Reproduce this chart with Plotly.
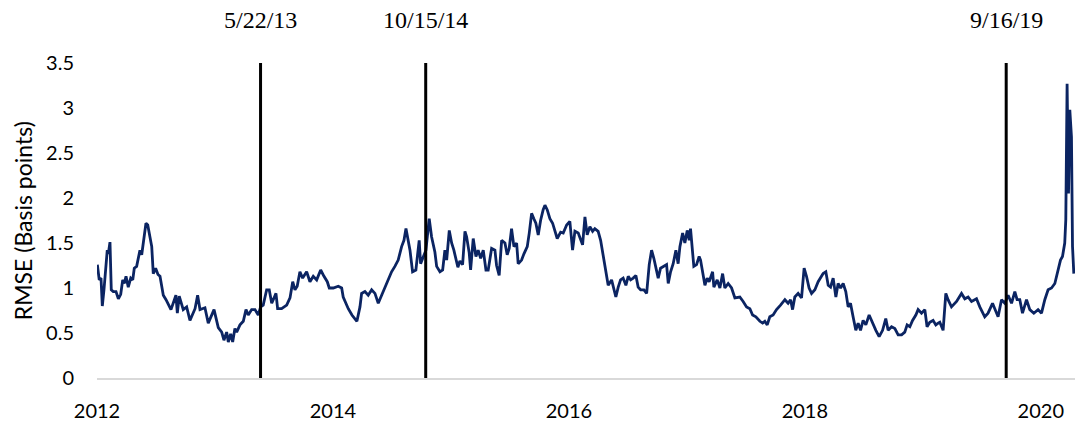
import plotly.graph_objects as go

years = [
    2012.003, 2012.019, 2012.034, 2012.045, 2012.059, 2012.074, 2012.087, 2012.096, 2012.110, 2012.121,
    2012.138, 2012.161, 2012.181, 2012.201, 2012.218, 2012.231, 2012.246, 2012.265, 2012.286, 2012.303,
    2012.316, 2012.336, 2012.350, 2012.364, 2012.379, 2012.392, 2012.415, 2012.430, 2012.449, 2012.464,
    2012.477, 2012.497, 2012.517, 2012.534, 2012.562, 2012.585, 2012.627, 2012.669, 2012.681, 2012.697,
    2012.731, 2012.760, 2012.788, 2012.816, 2012.831, 2012.853, 2012.873, 2012.915, 2012.943, 2012.992,
    2013.028, 2013.057, 2013.076, 2013.099, 2013.113, 2013.133, 2013.150, 2013.169, 2013.184, 2013.212,
    2013.240, 2013.263, 2013.282, 2013.311, 2013.339, 2013.367, 2013.387, 2013.409, 2013.438, 2013.460,
    2013.481, 2013.494, 2013.517, 2013.531, 2013.565, 2013.608, 2013.636, 2013.659, 2013.678, 2013.697,
    2013.720, 2013.743, 2013.777, 2013.805, 2013.833, 2013.862, 2013.896, 2013.924, 2013.952, 2013.969,
    2014.003, 2014.045, 2014.074, 2014.087, 2014.130, 2014.161, 2014.186, 2014.203, 2014.229, 2014.243,
    2014.271, 2014.299, 2014.328, 2014.356, 2014.384, 2014.413, 2014.441, 2014.469, 2014.497, 2014.525,
    2014.553, 2014.582, 2014.602, 2014.619, 2014.638, 2014.653, 2014.675, 2014.703, 2014.714, 2014.731,
    2014.743, 2014.765, 2014.788, 2014.816, 2014.836, 2014.864, 2014.879, 2014.907, 2014.930, 2014.949,
    2014.964, 2014.986, 2015.006, 2015.025, 2015.048, 2015.059, 2015.076, 2015.099, 2015.119, 2015.133,
    2015.155, 2015.167, 2015.189, 2015.212, 2015.231, 2015.252, 2015.274, 2015.297, 2015.316, 2015.345,
    2015.373, 2015.387, 2015.409, 2015.430, 2015.458, 2015.477, 2015.494, 2015.514, 2015.534, 2015.557,
    2015.570, 2015.599, 2015.619, 2015.647, 2015.664, 2015.684, 2015.703, 2015.720, 2015.740, 2015.760,
    2015.782, 2015.797, 2015.816, 2015.839, 2015.862, 2015.881, 2015.901, 2015.930, 2015.952, 2015.981,
    2016.008, 2016.031, 2016.051, 2016.079, 2016.093, 2016.116, 2016.136, 2016.155, 2016.178, 2016.201,
    2016.220, 2016.248, 2016.269, 2016.291, 2016.314, 2016.333, 2016.362, 2016.381, 2016.398, 2016.418,
    2016.438, 2016.460, 2016.483, 2016.503, 2016.523, 2016.545, 2016.568, 2016.587, 2016.608, 2016.636,
    2016.659, 2016.681, 2016.701, 2016.720, 2016.737, 2016.757, 2016.777, 2016.799, 2016.828, 2016.842,
    2016.862, 2016.884, 2016.907, 2016.926, 2016.941, 2016.964, 2016.983, 2017.003, 2017.020, 2017.031,
    2017.048, 2017.059, 2017.082, 2017.104, 2017.116, 2017.133, 2017.153, 2017.172, 2017.189, 2017.218,
    2017.229, 2017.257, 2017.280, 2017.303, 2017.322, 2017.350, 2017.379, 2017.407, 2017.449, 2017.477,
    2017.506, 2017.534, 2017.557, 2017.585, 2017.619, 2017.642, 2017.661, 2017.681, 2017.703, 2017.731,
    2017.760, 2017.794, 2017.831, 2017.858, 2017.879, 2017.896, 2017.915, 2017.943, 2017.972, 2017.994,
    2018.014, 2018.036, 2018.057, 2018.085, 2018.113, 2018.155, 2018.178, 2018.198, 2018.218, 2018.240,
    2018.263, 2018.282, 2018.303, 2018.325, 2018.347, 2018.367, 2018.387, 2018.409, 2018.432, 2018.452,
    2018.472, 2018.494, 2018.517, 2018.545, 2018.574, 2018.602, 2018.630, 2018.659, 2018.686, 2018.706,
    2018.735, 2018.763, 2018.791, 2018.820, 2018.847, 2018.867, 2018.890, 2018.913, 2018.941, 2018.960,
    2018.989, 2019.017, 2019.036, 2019.059, 2019.087, 2019.110, 2019.130, 2019.144, 2019.172, 2019.195,
    2019.214, 2019.243, 2019.286, 2019.328, 2019.356, 2019.384, 2019.413, 2019.455, 2019.483, 2019.525,
    2019.553, 2019.591, 2019.610, 2019.638, 2019.667, 2019.695, 2019.723, 2019.752, 2019.780, 2019.799,
    2019.822, 2019.845, 2019.879, 2019.907, 2019.941, 2019.977, 2020.006, 2020.034, 2020.062, 2020.091,
    2020.119, 2020.147, 2020.167, 2020.184, 2020.203, 2020.212, 2020.223, 2020.235, 2020.246, 2020.260,
    2020.269, 2020.280,
]

rmse = [
    1.26, 1.09, 1.11, 0.80, 0.98, 1.24, 1.42, 1.38, 1.51, 0.98,
    0.96, 0.96, 0.88, 0.93, 1.09, 1.05, 1.13, 1.01, 1.11, 1.09,
    1.22, 1.24, 1.33, 1.42, 1.37, 1.50, 1.72, 1.70, 1.57, 1.46,
    1.16, 1.22, 1.15, 1.13, 0.92, 0.87, 0.76, 0.92, 0.72, 0.91,
    0.76, 0.79, 0.64, 0.72, 0.77, 0.92, 0.76, 0.78, 0.61, 0.76,
    0.56, 0.51, 0.42, 0.51, 0.40, 0.49, 0.40, 0.55, 0.51, 0.59,
    0.63, 0.76, 0.70, 0.76, 0.76, 0.70, 0.79, 0.81, 0.98, 0.98,
    0.83, 0.87, 0.94, 0.77, 0.77, 0.81, 0.89, 1.07, 0.98, 1.02,
    1.18, 1.11, 1.18, 1.07, 1.13, 1.09, 1.20, 1.13, 1.07, 1.00,
    1.00, 1.02, 1.00, 0.90, 0.77, 0.70, 0.65, 0.63, 0.79, 0.94,
    0.96, 0.92, 0.98, 0.94, 0.83, 0.92, 1.01, 1.09, 1.18, 1.24,
    1.31, 1.46, 1.53, 1.66, 1.53, 1.42, 1.18, 1.20, 1.33, 1.53,
    1.27, 1.35, 1.42, 1.77, 1.57, 1.40, 1.24, 1.18, 1.20, 1.42,
    1.31, 1.64, 1.50, 1.42, 1.31, 1.23, 1.30, 1.26, 1.63, 1.57,
    1.39, 1.20, 1.55, 1.35, 1.42, 1.33, 1.42, 1.20, 1.20, 1.44,
    1.42, 1.25, 1.14, 1.53, 1.50, 1.37, 1.44, 1.66, 1.46, 1.50,
    1.27, 1.31, 1.38, 1.46, 1.61, 1.83, 1.77, 1.72, 1.59, 1.75,
    1.87, 1.92, 1.87, 1.77, 1.72, 1.64, 1.55, 1.62, 1.61, 1.70,
    1.74, 1.42, 1.63, 1.61, 1.55, 1.48, 1.79, 1.59, 1.68, 1.63,
    1.66, 1.63, 1.53, 1.35, 1.20, 1.03, 1.09, 0.98, 0.90, 1.01,
    1.09, 1.11, 1.03, 1.13, 1.09, 1.11, 1.14, 1.01, 0.98, 0.98,
    0.94, 1.26, 1.42, 1.33, 1.24, 1.11, 1.22, 1.24, 1.26, 1.05,
    1.18, 1.27, 1.42, 1.27, 1.46, 1.61, 1.50, 1.64, 1.53, 1.66,
    1.35, 1.24, 1.26, 1.35, 1.31, 1.18, 1.03, 1.11, 1.07, 1.18,
    1.01, 1.09, 1.00, 1.16, 1.00, 1.05, 1.00, 0.89, 0.90, 0.85,
    0.79, 0.77, 0.70, 0.68, 0.63, 0.61, 0.63, 0.59, 0.68, 0.70,
    0.76, 0.81, 0.87, 0.83, 0.87, 0.76, 0.90, 0.94, 0.89, 1.22,
    1.13, 1.00, 0.94, 0.98, 1.07, 1.16, 1.18, 1.03, 1.01, 1.11,
    0.90, 1.05, 1.00, 1.05, 0.96, 0.79, 0.83, 0.68, 0.53, 0.61,
    0.53, 0.64, 0.59, 0.70, 0.61, 0.53, 0.46, 0.53, 0.66, 0.53,
    0.57, 0.55, 0.48, 0.48, 0.51, 0.59, 0.57, 0.64, 0.70, 0.76,
    0.72, 0.76, 0.57, 0.62, 0.64, 0.59, 0.61, 0.62, 0.53, 0.94,
    0.87, 0.79, 0.85, 0.94, 0.88, 0.90, 0.85, 0.88, 0.79, 0.68,
    0.72, 0.83, 0.77, 0.68, 0.87, 0.83, 0.92, 0.83, 0.96, 0.87,
    0.87, 0.72, 0.87, 0.76, 0.72, 0.76, 0.72, 0.87, 0.98, 1.00,
    1.05, 1.20, 1.31, 1.35, 1.50, 1.76, 3.27, 2.05, 2.98, 2.68,
    1.46, 1.16,
]

# event dates marked with vertical lines
event_labels = ['5/22/13', '10/15/14', '9/16/19']
event_years = [2013 + 141 / 365, 2014 + 287 / 365, 2019 + 258 / 365]

x_ticks = [2012, 2014, 2016, 2018, 2020]
y_ticks = [0, 0.5, 1, 1.5, 2, 2.5, 3, 3.5]
y_ticktext = ['0', '0.5', '1', '1.5', '2', '2.5', '3', '3.5']

fig = go.Figure()
fig.add_trace(go.Scatter(x=years, y=rmse, mode='lines',
                         line=dict(color='#0b2462', width=2.8),
                         showlegend=False, hoverinfo='skip'))

for lab, ev in zip(event_labels, event_years):
    fig.add_shape(type='line', x0=ev, x1=ev, y0=0, y1=3.5, xref='x', yref='y',
                  line=dict(color='black', width=3))
    fig.add_annotation(x=ev, y=1.135, xref='x', yref='paper', text=lab,
                       showarrow=False, xanchor='center', yanchor='middle',
                       font=dict(family='Liberation Serif', size=24, color='black'))

fig.add_annotation(x=-0.076, y=0.5, xref='paper', yref='paper',
                   text='RMSE (Basis points)', textangle=-90, showarrow=False,
                   xanchor='center', yanchor='middle',
                   font=dict(family='Lato', size=23, color='black'))

fig.update_layout(
    width=1075, height=423,
    margin=dict(l=97, r=0, t=63, b=45),
    paper_bgcolor='white', plot_bgcolor='white',
    font=dict(family='Lato', size=20, color='black'),
    xaxis=dict(range=[2012, 2020.29], tickvals=x_ticks, ticktext=[str(v) for v in x_ticks],
               showgrid=False, zeroline=False, showline=True, linecolor='#d9d9d9', linewidth=1.5,
               ticks='', ticklabelstandoff=14),
    yaxis=dict(range=[0, 3.5], tickvals=y_ticks, ticktext=y_ticktext,
               showgrid=False, zeroline=False, showline=False,
               ticks='', ticklabelstandoff=22),
)

fig.write_html("out.html", config={'displayModeBar': False},
               post_script="document.body.style.margin='0';")
